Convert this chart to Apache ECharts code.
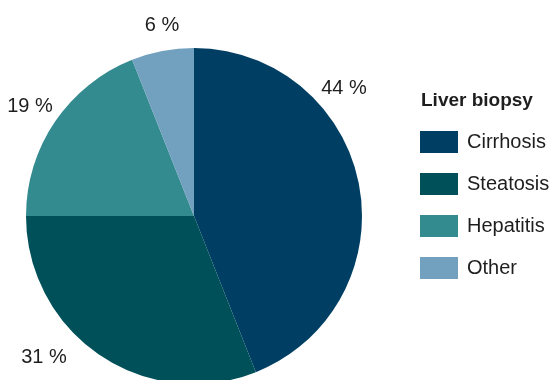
<!DOCTYPE html>
<html>
<head>
<meta charset="utf-8">
<script src="https://cdn.jsdelivr.net/npm/echarts@6/dist/echarts.min.js"></script>
<style>
  html, body { margin: 0; padding: 0; background: #fff; }
  #chart { width: 550px; height: 380px; }
</style>
</head>
<body>
<div id="chart"></div>
<script>
const categories = ['Cirrhosis', 'Steatosis', 'Hepatitis', 'Other']
const shares = [44, 31, 19, 6]
const colors = ['#003f63', '#00505a', '#338a8f', '#72a0bf']

// label anchor points (px), one per slice
const labelPos = [[344, 88], [44, 357], [30, 106], [162, 25]]

const font = '"Liberation Sans Narrow", "Liberation Sans", Arial, sans-serif'

const chart = echarts.init(document.getElementById('chart'))

const option = {
  animation: false,
  title: {
    text: 'Liver biopsy',
    left: 421,
    top: 91,
    padding: 0,
    textStyle: {
      fontFamily: font,
      fontSize: 19,
      fontWeight: 'bold',
      color: '#1e1e1e'
    }
  },
  legend: {
    orient: 'vertical',
    left: 420,
    top: 131,
    padding: 0,
    icon: 'rect',
    itemWidth: 38,
    itemHeight: 22,
    itemGap: 20,
    data: categories,
    textStyle: {
      fontFamily: font,
      fontSize: 20,
      color: '#1e1e1e',
      padding: [0, 0, 0, 4]
    }
  },
  series: [{
    type: 'pie',
    center: [194, 216],
    radius: 168,
    startAngle: 90,
    clockwise: true,
    data: categories.map((name, i) => ({
      name: name,
      value: shares[i],
      itemStyle: { color: colors[i] }
    })),
    itemStyle: { borderWidth: 0 },
    emphasis: { disabled: true },
    avoidLabelOverlap: false,
    label: {
      show: true,
      formatter: '{c} %',
      fontFamily: font,
      fontSize: 20,
      color: '#1e1e1e',
      overflow: 'none'
    },
    labelLine: { show: false },
    labelLayout: function (params) {
      const p = labelPos[params.dataIndex]
      return {
        x: p[0], y: p[1],
        align: 'center', verticalAlign: 'middle',
        hideOverlap: false, moveOverlap: null
      }
    }
  }]
}

chart.setOption(option)
</script>
</body>
</html>
